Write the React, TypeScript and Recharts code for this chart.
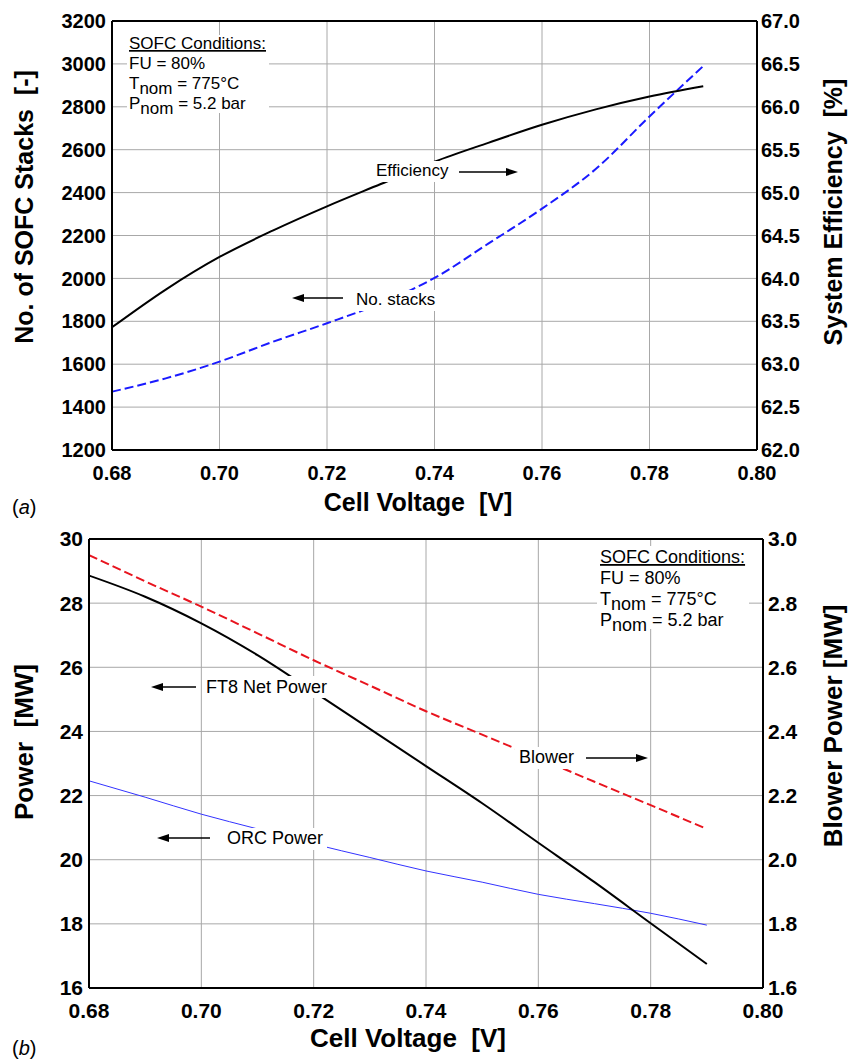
import { CartesianGrid, Line, LineChart, XAxis, YAxis } from "recharts";

const FONT = '"Liberation Sans", Arial, Helvetica, sans-serif';

// (a) number of stacks and system efficiency vs. cell voltage
const voltsA = [0.68, 0.69, 0.7, 0.71, 0.72, 0.73, 0.74, 0.75, 0.76, 0.77, 0.78, 0.79];
const stackCount = [1472, 1534, 1612, 1705, 1791, 1884, 2002, 2162, 2325, 2510, 2755, 2990];
const efficiency = [63.43, 63.87, 64.25, 64.56, 64.84, 65.1, 65.36, 65.58, 65.79, 65.97, 66.12, 66.24];

// (b) power split vs. cell voltage
const voltsB = [0.68, 0.69, 0.7, 0.71, 0.72, 0.73, 0.74, 0.75, 0.76, 0.77, 0.78, 0.79];
const ft8Power = [28.86, 28.2, 27.37, 26.38, 25.24, 24.08, 22.92, 21.76, 20.53, 19.3, 18.02, 16.75];
const orcPower = [22.46, 21.95, 21.42, 20.96, 20.49, 20.07, 19.65, 19.3, 18.92, 18.63, 18.33, 17.96];
const blowerPower = [2.95, 2.868, 2.789, 2.706, 2.622, 2.543, 2.463, 2.39, 2.317, 2.243, 2.17, 2.096];

// axis ticks
const voltTicks = [0.68, 0.7, 0.72, 0.74, 0.76, 0.78, 0.8];
const voltMinor = [0.69, 0.71, 0.73, 0.75, 0.77, 0.79];
const stackTicks = [1200, 1400, 1600, 1800, 2000, 2200, 2400, 2600, 2800, 3000, 3200];
const stackMinor = [1300, 1500, 1700, 1900, 2100, 2300, 2500, 2700, 2900, 3100];
const effTicks = [62, 62.5, 63, 63.5, 64, 64.5, 65, 65.5, 66, 66.5, 67];
const powerTicks = [16, 18, 20, 22, 24, 26, 28, 30];
const powerMinor = [17, 19, 21, 23, 25, 27, 29];
const blowerTicks = [1.6, 1.8, 2.0, 2.2, 2.4, 2.6, 2.8, 3.0];

const rowsA = voltsA.map((v, i) => ({ v, stacks: stackCount[i], eff: efficiency[i] }));
const rowsB = voltsB.map((v, i) => ({
  v,
  ft8: ft8Power[i],
  orc: orcPower[i],
  blower: blowerPower[i],
}));

const frame = { stroke: "#000", strokeWidth: 2 };
const minorLine = { stroke: "#000", strokeWidth: 1 };
const gridColor = "#a8a8a8";

const tickStyle = (size: number) => ({
  fontSize: size,
  fontWeight: "bold",
  fill: "#000",
  fontFamily: FONT,
});

const Arrow = ({ x1, x2, y }: { x1: number; x2: number; y: number }) => {
  const dir = Math.sign(x2 - x1);
  const base = x2 - dir * 12;
  return (
    <g>
      <line x1={x1} x2={base} y1={y} y2={y} stroke="#000" strokeWidth={1.3} />
      <polygon points={`${x2},${y} ${base},${y - 4} ${base},${y + 4}`} fill="#000" />
    </g>
  );
};

const Conditions = ({ x, y, size }: { x: number; y: number; size: number }) => {
  const step = size * 1.15;
  return (
    <text x={x} y={y} fontSize={size} fontFamily={FONT} fill="#000">
      <tspan x={x} textDecoration="underline">SOFC Conditions:</tspan>
      <tspan x={x} y={y + step}>FU = 80%</tspan>
      <tspan x={x} y={y + step * 2.05}>T</tspan>
      <tspan dy={5}>nom</tspan>
      <tspan dy={-5}> = 775°C</tspan>
      <tspan x={x} y={y + step * 3.05}>P</tspan>
      <tspan dy={5}>nom</tspan>
      <tspan dy={-5}> = 5.2 bar</tspan>
    </text>
  );
};

const Overlay = () => (
  <svg
    width={849}
    height={1060}
    style={{ position: "absolute", left: 0, top: 0, pointerEvents: "none" }}
  >
    {/* panel (a) */}
    <rect x={127} y={35} width={142} height={78} fill="#fff" />
    <Conditions x={129} y={49} size={17} />
    <rect x={372} y={161} width={80} height={21} fill="#fff" />
    <text x={376} y={176} fontSize={17} fontFamily={FONT}>Efficiency</text>
    <Arrow x1={459} x2={518} y={172} />
    <rect x={352} y={290} width={88} height={21} fill="#fff" />
    <text x={356} y={305} fontSize={17} fontFamily={FONT}>No. stacks</text>
    <Arrow x1={343} x2={292} y={298} />

    <text transform="translate(33,207) rotate(-90)" textAnchor="middle" fontSize={25} fontWeight="bold" fontFamily={FONT}>
      {"No. of SOFC Stacks\u00a0\u00a0[-]"}
    </text>
    <text transform="translate(842,212) rotate(-90)" textAnchor="middle" fontSize={25} fontWeight="bold" fontFamily={FONT}>
      {"System Efficiency\u00a0\u00a0[%]"}
    </text>
    <text x={418} y={511} textAnchor="middle" fontSize={25} fontWeight="bold" fontFamily={FONT}>
      {"Cell Voltage\u00a0\u00a0[V]"}
    </text>
    <text x={12} y={514} fontSize={20} fontFamily={FONT}>
      (<tspan fontStyle="italic">a</tspan>)
    </text>

    {/* panel (b) */}
    <rect x={597} y={546} width={152} height={83} fill="#fff" />
    <Conditions x={600} y={563} size={18} />
    <rect x={202} y={676} width={128} height={22} fill="#fff" />
    <text x={206} y={693} fontSize={18} fontFamily={FONT}>FT8 Net Power</text>
    <Arrow x1={196} x2={151} y={687} />
    <rect x={515} y={747} width={64} height={22} fill="#fff" />
    <text x={519} y={763} fontSize={18} fontFamily={FONT}>Blower</text>
    <Arrow x1={586} x2={648} y={758} />
    <rect x={223} y={828} width={104} height={22} fill="#fff" />
    <text x={227} y={844} fontSize={18} fontFamily={FONT}>ORC Power</text>
    <Arrow x1={210} x2={157} y={838} />

    <text transform="translate(33,742) rotate(-90)" textAnchor="middle" fontSize={26} fontWeight="bold" fontFamily={FONT}>
      {"Power\u00a0\u00a0[MW]"}
    </text>
    <text transform="translate(842,726) rotate(-90)" textAnchor="middle" fontSize={26} fontWeight="bold" fontFamily={FONT}>
      Blower Power [MW]
    </text>
    <text x={408} y={1047} textAnchor="middle" fontSize={26} fontWeight="bold" fontFamily={FONT}>
      {"Cell Voltage\u00a0\u00a0[V]"}
    </text>
    <text x={12} y={1055} fontSize={20} fontFamily={FONT}>
      (<tspan fontStyle="italic">b</tspan>)
    </text>
  </svg>
);

const StacksChart = () => (
  <LineChart
    width={849}
    height={530}
    data={rowsA}
    margin={{ top: 20, right: 91, bottom: 78, left: 110 }}
  >
    <CartesianGrid stroke={gridColor} strokeWidth={1} />
    <XAxis
      dataKey="v"
      type="number"
      domain={[0.68, 0.8]}
      ticks={voltTicks}
      interval={0}
      allowDataOverflow
      height={1}
      axisLine={frame}
      tickLine={false}
      tickSize={0}
      tickMargin={16}
      tick={tickStyle(20)}
      tickFormatter={(t: number) => t.toFixed(2)}
    />
    <XAxis
      xAxisId="minorBottom"
      dataKey="v"
      type="number"
      domain={[0.68, 0.8]}
      ticks={voltMinor}
      interval={0}
      height={1}
      axisLine={false}
      tick={false}
      tickLine={minorLine}
      tickSize={-5}
    />
    <XAxis
      xAxisId="top"
      orientation="top"
      dataKey="v"
      type="number"
      domain={[0.68, 0.8]}
      ticks={voltMinor}
      interval={0}
      height={1}
      axisLine={frame}
      tick={false}
      tickLine={minorLine}
      tickSize={-5}
    />
    <YAxis
      type="number"
      domain={[1200, 3200]}
      ticks={stackTicks}
      interval={0}
      width={1}
      axisLine={frame}
      tickLine={false}
      tickSize={0}
      tickMargin={6}
      tick={tickStyle(20)}
    />
    <YAxis
      yAxisId="minorLeft"
      type="number"
      domain={[1200, 3200]}
      ticks={stackMinor}
      interval={0}
      width={1}
      axisLine={false}
      tick={false}
      tickLine={minorLine}
      tickSize={-5}
    />
    <YAxis
      yAxisId="eff"
      orientation="right"
      type="number"
      domain={[62, 67]}
      ticks={effTicks}
      interval={0}
      width={1}
      axisLine={frame}
      tickLine={false}
      tickSize={0}
      tickMargin={4}
      tick={tickStyle(20)}
      tickFormatter={(t: number) => t.toFixed(1)}
    />
    <Line
      dataKey="stacks"
      type="monotone"
      stroke="#1a1aff"
      strokeWidth={2}
      strokeDasharray="9 4"
      dot={false}
      isAnimationActive={false}
    />
    <Line
      dataKey="eff"
      yAxisId="eff"
      type="monotone"
      stroke="#000"
      strokeWidth={2}
      dot={false}
      isAnimationActive={false}
    />
  </LineChart>
);

const PowerChart = () => (
  <LineChart
    width={849}
    height={560}
    data={rowsB}
    margin={{ top: 38, right: 85, bottom: 70, left: 87 }}
  >
    <CartesianGrid stroke={gridColor} strokeWidth={1} />
    <XAxis
      dataKey="v"
      type="number"
      domain={[0.68, 0.8]}
      ticks={voltTicks}
      interval={0}
      allowDataOverflow
      height={1}
      axisLine={frame}
      tickLine={false}
      tickSize={0}
      tickMargin={15}
      tick={tickStyle(21)}
      tickFormatter={(t: number) => t.toFixed(2)}
    />
    <XAxis
      xAxisId="minorBottom"
      dataKey="v"
      type="number"
      domain={[0.68, 0.8]}
      ticks={voltMinor}
      interval={0}
      height={1}
      axisLine={false}
      tick={false}
      tickLine={minorLine}
      tickSize={-5}
    />
    <XAxis
      xAxisId="top"
      orientation="top"
      dataKey="v"
      type="number"
      domain={[0.68, 0.8]}
      ticks={voltMinor}
      interval={0}
      height={1}
      axisLine={frame}
      tick={false}
      tickLine={minorLine}
      tickSize={-5}
    />
    <YAxis
      type="number"
      domain={[16, 30]}
      ticks={powerTicks}
      interval={0}
      width={1}
      axisLine={frame}
      tickLine={false}
      tickSize={0}
      tickMargin={6}
      tick={tickStyle(21)}
    />
    <YAxis
      yAxisId="minorLeft"
      type="number"
      domain={[16, 30]}
      ticks={powerMinor}
      interval={0}
      width={1}
      axisLine={false}
      tick={false}
      tickLine={minorLine}
      tickSize={-5}
    />
    <YAxis
      yAxisId="blower"
      orientation="right"
      type="number"
      domain={[1.6, 3.0]}
      ticks={blowerTicks}
      interval={0}
      width={1}
      axisLine={frame}
      tickLine={false}
      tickSize={0}
      tickMargin={5}
      tick={tickStyle(21)}
      tickFormatter={(t: number) => t.toFixed(1)}
    />
    <Line
      dataKey="blower"
      yAxisId="blower"
      type="monotone"
      stroke="#e8141e"
      strokeWidth={2}
      strokeDasharray="9 4"
      dot={false}
      isAnimationActive={false}
    />
    <Line
      dataKey="orc"
      type="monotone"
      stroke="#3333ff"
      strokeWidth={1}
      dot={false}
      isAnimationActive={false}
    />
    <Line
      dataKey="ft8"
      type="monotone"
      stroke="#000"
      strokeWidth={2}
      dot={false}
      isAnimationActive={false}
    />
  </LineChart>
);

export default function App() {
  return (
    <div
      style={{
        position: "absolute",
        left: 0,
        top: 0,
        width: 849,
        height: 1060,
        background: "#fff",
      }}
    >
      <div style={{ position: "absolute", left: 0, top: 0 }}>
        <StacksChart />
      </div>
      <div style={{ position: "absolute", left: 0, top: 500 }}>
        <PowerChart />
      </div>
      <Overlay />
    </div>
  );
}
